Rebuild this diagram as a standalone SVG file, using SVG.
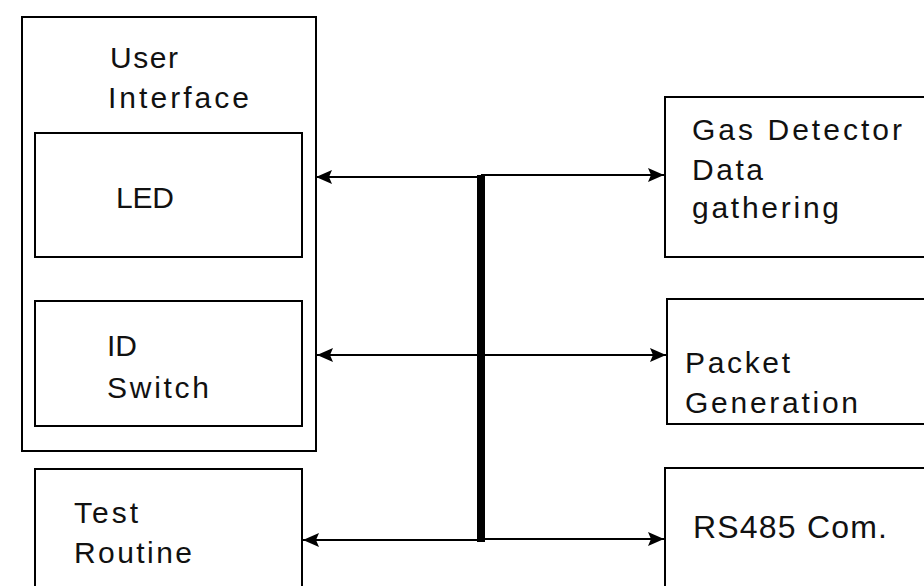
<svg xmlns="http://www.w3.org/2000/svg" width="924" height="586" viewBox="0 0 924 586">
  <style>
    .box { fill: none; stroke: #000; stroke-width: 2; }
    .lbl { font-family: "Liberation Sans", Arial, sans-serif; font-size: 30px; fill: #111; }
    .big { font-size: 32px; }
    .wire { stroke: #000; stroke-width: 2; fill: none; marker-end: url(#arrow); }
  </style>
  <defs>
    <marker id="arrow" markerUnits="userSpaceOnUse" markerWidth="17" markerHeight="15" refX="16" refY="7.5" orient="auto">
      <path d="M0,0.5 L16,7.5 L0,14.5 L3,7.5 z" fill="#000"/>
    </marker>
  </defs>
  <rect width="924" height="586" fill="#fff"/>

  <g id="user-interface">
    <rect class="box" x="22" y="17" width="294" height="434"/>
    <text class="lbl" x="110" y="68" textLength="68" lengthAdjust="spacing">User</text>
    <text class="lbl" x="108" y="108" textLength="141" lengthAdjust="spacing">Interface</text>
  </g>
  <g id="led">
    <rect class="box" x="35" y="133" width="267" height="124"/>
    <text class="lbl" x="116" y="208" textLength="58" lengthAdjust="spacing">LED</text>
  </g>
  <g id="id-switch">
    <rect class="box" x="35" y="301" width="267" height="125"/>
    <text class="lbl" x="107" y="356">ID</text>
    <text class="lbl" x="107" y="398" textLength="102" lengthAdjust="spacing">Switch</text>
  </g>
  <g id="test-routine">
    <rect class="box" x="35" y="469" width="267" height="140"/>
    <text class="lbl" x="74" y="523" textLength="64" lengthAdjust="spacing">Test</text>
    <text class="lbl" x="74" y="563" textLength="118" lengthAdjust="spacing">Routine</text>
  </g>
  <g id="gas-detector">
    <rect class="box" x="665" y="97" width="280" height="160"/>
    <text class="lbl" x="692" y="140" textLength="210" lengthAdjust="spacing">Gas Detector</text>
    <text class="lbl" x="692" y="180" textLength="71" lengthAdjust="spacing">Data</text>
    <text class="lbl" x="692" y="218" textLength="147" lengthAdjust="spacing">gathering</text>
  </g>
  <g id="packet-generation">
    <rect class="box" x="667" y="299" width="280" height="125"/>
    <text class="lbl" x="685" y="373" textLength="105" lengthAdjust="spacing">Packet</text>
    <text class="lbl" x="685" y="413" textLength="173" lengthAdjust="spacing">Generation</text>
  </g>
  <g id="rs485">
    <rect class="box" x="665" y="468" width="280" height="140"/>
    <text class="lbl big" x="693" y="538" textLength="194" lengthAdjust="spacing">RS485 Com.</text>
  </g>

  <g id="connectors">
    <rect x="477" y="175" width="8" height="367" fill="#000"/>
    <line class="wire" x1="481" y1="177" x2="316" y2="177"/>
    <line class="wire" x1="481" y1="175" x2="664" y2="175"/>
    <line class="wire" x1="481" y1="355" x2="317" y2="355"/>
    <line class="wire" x1="481" y1="355" x2="666" y2="355"/>
    <line class="wire" x1="481" y1="540" x2="303" y2="540"/>
    <line class="wire" x1="481" y1="539" x2="664" y2="539"/>
  </g>
</svg>
